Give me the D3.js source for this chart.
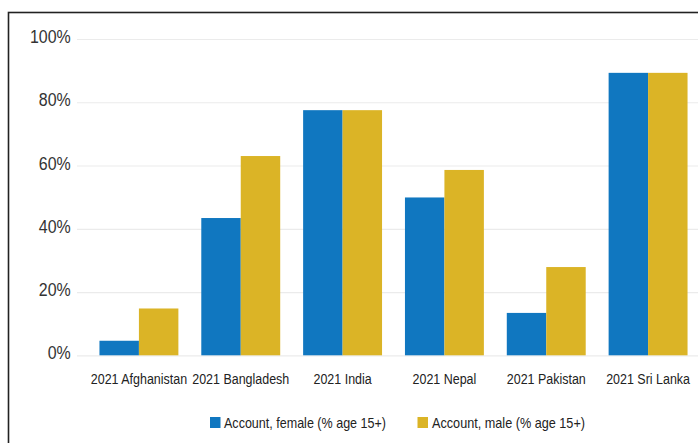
<!DOCTYPE html>
<html>
<head>
<meta charset="utf-8">
<script src="https://cdn.jsdelivr.net/npm/d3@7"></script>
<style>
  body { margin: 0; background: #fff; }
  svg { display: block; font-family: "Liberation Sans", Arial, Helvetica, sans-serif; }
  .grid line { stroke: #ebebeb; stroke-width: 1.2; }
  .grid .domain, .x-axis .domain { display: none; }
</style>
</head>
<body>
<div id="chart"></div>
<script>
const categories = ['2021 Afghanistan', '2021 Bangladesh', '2021 India', '2021 Nepal', '2021 Pakistan', '2021 Sri Lanka'];
const seriesNames = ['Account, female (% age 15+)', 'Account, male (% age 15+)'];
const femaleValues = [4.6, 43.4, 77.5, 49.9, 13.4, 89.3];
const maleValues = [14.8, 63.0, 77.5, 58.6, 27.9, 89.3];
const yTicks = [0, 20, 40, 60, 80, 100];

const width = 698;
const height = 443;
const colors = ['#1077c0', '#dbb426'];

const svg = d3.select('#chart')
  .append('svg')
  .attr('width', width)
  .attr('height', height);

// Outer frame (only top and left edges show in the window)
svg.append('rect')
  .attr('x', 8.5)
  .attr('y', 12.5)
  .attr('width', 720)
  .attr('height', 460)
  .attr('fill', 'none')
  .attr('stroke', '#222')
  .attr('stroke-width', 1.6);

const yScale = d3.scaleLinear()
  .domain([0, 100])
  .range([355.3, 39]);

const x0 = d3.scaleBand()
  .domain(categories)
  .range([88, 699])
  .paddingInner(0.225)
  .paddingOuter(0.1125);

const x1 = d3.scaleBand()
  .domain(seriesNames)
  .range([0, x0.bandwidth()]);

// Gridlines + y labels
const gridLeft = 77;
const yAxis = svg.append('g')
  .attr('class', 'grid')
  .attr('transform', `translate(${gridLeft},0)`)
  .call(
    d3.axisLeft(yScale)
      .tickValues(yTicks)
      .tickSize(-(width - gridLeft))
      .tickFormat((d) => `${d}%`),
  );

yAxis.selectAll('text')
  .attr('x', -6.3 / 0.84)
  .attr('dy', '0.32em')
  .attr('y', -2.5)
  .attr('transform', 'scale(0.84,1)')
  .style('font-size', '19px')
  .style('fill', '#333');

// Bars
const rows = categories.map((c, i) => ({ label: c, values: [femaleValues[i], maleValues[i]] }));

const groups = svg.selectAll('.group')
  .data(rows)
  .enter().append('g')
  .attr('class', 'group')
  .attr('transform', (d) => `translate(${x0(d.label)},0)`);

groups.selectAll('rect')
  .data((d) => d.values.map((v, j) => ({ key: seriesNames[j], value: v, j })))
  .enter().append('rect')
  .attr('x', (d) => x1(d.key))
  .attr('width', x1.bandwidth())
  .attr('y', (d) => yScale(d.value))
  .attr('height', (d) => yScale(0) - yScale(d.value))
  .style('fill', (d) => colors[d.j]);

// X axis labels
const xAxis = svg.append('g')
  .attr('class', 'x-axis')
  .attr('transform', `translate(0,${yScale(0)})`)
  .call(d3.axisBottom(x0).tickSize(0));

xAxis.selectAll('text')
  .attr('y', 28.5)
  .attr('dy', 0)
  .attr('transform', 'scale(0.89,1)')
  .style('font-size', '14px')
  .style('fill', '#222');

// Legend
const legendItems = [
  { name: seriesNames[0], color: colors[0], x: 210, textX: 224, textW: 162 },
  { name: seriesNames[1], color: colors[1], x: 417.5, textX: 432, textW: 153 },
];

const legend = svg.selectAll('.legend')
  .data(legendItems)
  .enter().append('g')
  .attr('class', 'legend');

legend.append('rect')
  .attr('x', (d) => d.x)
  .attr('y', 417)
  .attr('width', 10.5)
  .attr('height', 11)
  .style('fill', (d) => d.color);

legend.append('text')
  .attr('x', (d) => d.textX)
  .attr('y', 428.3)
  .attr('textLength', (d) => d.textW)
  .attr('lengthAdjust', 'spacingAndGlyphs')
  .style('font-size', '15px')
  .style('fill', '#222')
  .text((d) => d.name);
</script>
</body>
</html>
